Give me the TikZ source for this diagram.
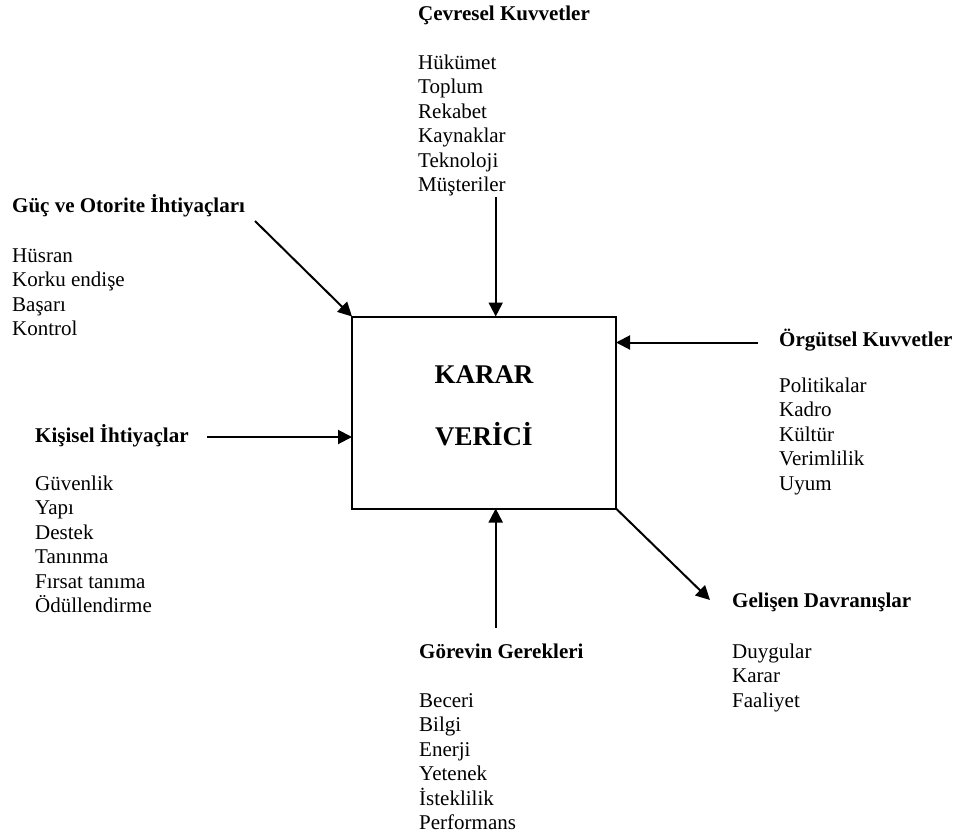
\documentclass[tikz,border=0pt]{standalone}
\usepackage{fontspec}
\setmainfont{Liberation Serif}
\usetikzlibrary{arrows.meta}

% a top-aligned stack of lines whose baseline is that of its first line
\newcommand{\linestack}[1]{\vtop{\baselineskip=24.5pt\lineskiplimit=-50pt\lineskip=0pt #1}}

\tikzset{
  heading/.style={anchor=base west, inner sep=0pt, font=\fontsize{21}{24.5}\selectfont\bfseries},
  itemlist/.style={anchor=base west, inner sep=0pt, font=\fontsize{21}{24.5}\selectfont},
  boxtext/.style={anchor=base, inner sep=0pt, font=\fontsize{27}{30}\selectfont\bfseries},
  mainbox/.style={draw, line width=2pt, minimum width=264pt, minimum height=192pt, inner sep=0pt, outer sep=0pt},
  force/.style={line width=2pt, -{Triangle[length=14pt,width=14pt]}}
}

\begin{document}
\begin{tikzpicture}[x=1pt,y=-1pt]
  \useasboundingbox (0,0) rectangle (961,838);

  % decision maker box
  \node[mainbox] (box) at (484,412.5) {};
  \node[boxtext] (karar) at (484,383) {KARAR};
  \node[boxtext] (verici) at (484,445) {VERİCİ};

  % environmental forces (top)
  \node[heading] (cevH) at (418,20) {Çevresel Kuvvetler};
  \node[itemlist] (cevL) at (418,69) {\linestack{\hbox{Hükümet}\hbox{Toplum}\hbox{Rekabet}\hbox{Kaynaklar}\hbox{Teknoloji}\hbox{Müşteriler}}};
  \coordinate (cevS) at (495.7,197);

  % power and authority needs (top left)
  \node[heading] (gucH) at (12,212) {Güç ve Otorite İhtiyaçları};
  \node[itemlist] (gucL) at (12,262) {\linestack{\hbox{Hüsran}\hbox{Korku endişe}\hbox{Başarı}\hbox{Kontrol}}};
  \coordinate (gucS) at (255,221);

  % organisational forces (right)
  \node[heading] (orgH) at (779,346) {Örgütsel Kuvvetler};
  \node[itemlist] (orgL) at (779,392) {\linestack{\hbox{Politikalar}\hbox{Kadro}\hbox{Kültür}\hbox{Verimlilik}\hbox{Uyum}}};
  \coordinate (orgS) at (758,342.5);

  % personal needs (left)
  \node[heading] (kisH) at (35,442) {Kişisel İhtiyaçlar};
  \node[itemlist] (kisL) at (35,490) {\linestack{\hbox{Güvenlik}\hbox{Yapı}\hbox{Destek}\hbox{Tanınma}\hbox{Fırsat tanıma}\hbox{Ödüllendirme}}};
  \coordinate (kisS) at (207,437);

  % task requirements (bottom)
  \node[heading] (gorH) at (419,658) {Görevin Gerekleri};
  \node[itemlist] (gorL) at (419,707) {\linestack{\hbox{Beceri}\hbox{Bilgi}\hbox{Enerji}\hbox{Yetenek}\hbox{İsteklilik}\hbox{Performans}}};
  \coordinate (gorS) at (495.7,628);

  % emerging behaviours (bottom right)
  \node[heading] (gelH) at (732,607) {Gelişen Davranışlar};
  \node[itemlist] (gelL) at (732,658) {\linestack{\hbox{Duygular}\hbox{Karar}\hbox{Faaliyet}}};
  \coordinate (gelE) at (710,600);

  % connectors
  \draw[force] (cevS) -- (cevS |- box.north);
  \draw[force] (gucS) -- (box.north west);
  \draw[force] (orgS) -- (orgS -| box.east);
  \draw[force] (kisS) -- (kisS -| box.west);
  \draw[force] (gorS) -- (gorS |- box.south);
  \draw[force] (box.south east) -- (gelE);
\end{tikzpicture}
\end{document}
